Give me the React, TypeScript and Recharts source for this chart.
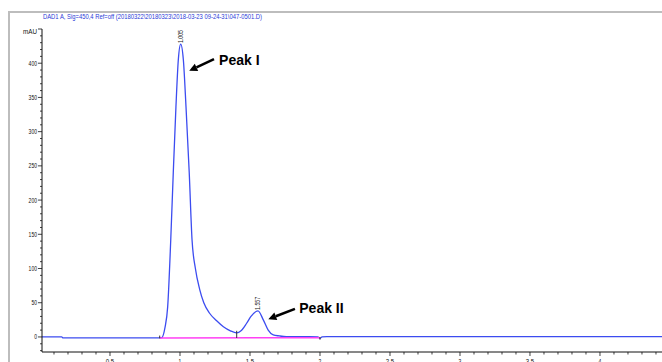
import React from "react";
import { LineChart, Line, XAxis, YAxis, ReferenceLine, ReferenceDot } from "recharts";

// chromatogram DAD1 A, 450 nm
const title = "DAD1 A, Sig=450,4 Ref=off (20180322\\20180323\\2018-03-23 09-24-31\\047-0501.D)";
const yUnit = "mAU";

const retentionTime = [
  0, 0.155, 0.165, 0.84, 0.87, 0.893, 0.912, 0.934, 0.952, 0.971, 0.988, 1.005, 1.024,
  1.043, 1.066, 1.086, 1.11, 1.14, 1.17, 1.21, 1.26, 1.31, 1.36, 1.405, 1.436, 1.476,
  1.507, 1.557, 1.595, 1.63, 1.666, 1.71, 1.76, 1.9, 1.985, 2.0, 2.015, 2.05, 4.45,
];
const absorbance = [
  0, 0, -1.5, -1.5, -1, 14, 44, 142, 240, 336, 405, 428, 405,
  336, 240, 142, 100, 70, 50, 35, 24, 15, 9, 6, 9, 20,
  30, 38, 25, 10, 3, 1.5, 0.5, 0.3, 0, -2, 0, 0.5, 0.5,
];

// integration baseline (pink)
const baselineTime = [0.855, 2.0];
const baselineValue = [-1.5, -1];

// peak marks
const peakTimes = [1.005, 1.557];
const peakHeights = [428, 38];
const peakNames = ["Peak I", "Peak II"];
const splitTimes = [0.855, 1.405, 2.0];
const splitTops = [2, 9, 0];
const splitBottoms = [-2, -1.5, -4];

const xLabels = ["0.5", "1", "1.5", "2", "2.5", "3", "3.5", "4"];

const xDomain: [number, number] = [0.0143, 4.443];
const yDomain: [number, number] = [-22, 450];

const xTicks = Array.from({ length: 44 }, (_, i) => Math.round((i + 1) * 10) / 100);
const yTicks = [...Array.from({ length: 47 }, (_, i) => -20 + i * 10), 450];

const trace = retentionTime.map((t, i) => ({ t, v: absorbance[i] }));
const baseline = baselineTime.map((t, i) => ({ t, v: baselineValue[i] }));

// arrows: tail -> head, text at [t, v]
const notes = [
  { tail: [1.243, 406], head: [1.066, 389], text: [1.279, 405] },
  { tail: [1.821, 41], head: [1.631, 26], text: [1.852, 42] },
];

const FONT = "'Liberation Sans', Arial, sans-serif";

function YTick(props: any) {
  const { x, y, payload } = props;
  const v = payload.value;
  const isTop = v === yDomain[1];
  const major = v % 50 === 0 || isTop;
  const label = isTop ? yUnit : String(v);
  return (
    <g>
      <line x1={x} x2={x - (major ? 4 : 2)} y1={y} y2={y} stroke="#111" strokeWidth={0.8} />
      {major && (
        <text
          x={x - 5}
          y={y + (isTop ? 5 : 2.5)}
          textAnchor="end"
          fontSize={7}
          fontFamily={FONT}
          fill="#111"
          textLength={isTop ? 14 : label.length * 2.8}
          lengthAdjust="spacingAndGlyphs"
        >
          {label}
        </text>
      )}
    </g>
  );
}

function XTick(props: any) {
  const { x, y, payload } = props;
  const v = payload.value;
  const label = String(v);
  const major = xLabels.includes(label);
  return (
    <g>
      <line x1={x} x2={x} y1={y} y2={y + (major ? 4 : 2.5)} stroke="#111" strokeWidth={0.8} />
      {major && (
        <text
          x={x}
          y={y + 12}
          textAnchor="middle"
          fontSize={7}
          fontFamily={FONT}
          fill="#111"
          textLength={label.length * 2.8}
          lengthAdjust="spacingAndGlyphs"
        >
          {label}
        </text>
      )}
    </g>
  );
}

function Arrow(props: any) {
  const { x1, y1, x2, y2 } = props;
  const dx = x2 - x1;
  const dy = y2 - y1;
  const len = Math.sqrt(dx * dx + dy * dy);
  const ux = dx / len;
  const uy = dy / len;
  const hl = 8;
  const hw = 4;
  const bx = x2 - ux * hl;
  const by = y2 - uy * hl;
  return (
    <g>
      <line x1={x1} y1={y1} x2={bx} y2={by} stroke="#000" strokeWidth={2.6} />
      <polygon
        points={`${x2},${y2} ${bx - uy * hw},${by + ux * hw} ${bx + uy * hw},${by - ux * hw}`}
        fill="#000"
      />
    </g>
  );
}

export default function App() {
  return (
    <div
      style={{
        position: "fixed",
        left: 0,
        top: 0,
        width: 662,
        height: 362,
        overflow: "hidden",
        background: "#fff",
      }}
    >
      <div
        style={{
          position: "absolute",
          left: 8,
          top: 11,
          width: 700,
          height: 400,
          borderTop: "2px solid #bdbdbd",
          borderLeft: "2px solid #bdbdbd",
        }}
      />
      <svg style={{ position: "absolute", left: 0, top: 0 }} width={662} height={30}>
        <text
          x={43}
          y={19}
          fontSize={8}
          fontFamily={FONT}
          fill="#2a3ad8"
          textLength={219}
          lengthAdjust="spacingAndGlyphs"
        >
          {title}
        </text>
      </svg>
      <LineChart
        width={662}
        height={380}
        data={trace}
        margin={{ top: 29, right: 0, left: 0, bottom: 0 }}
        style={{ position: "absolute", left: 0, top: 0 }}
      >
        <XAxis
          dataKey="t"
          type="number"
          domain={xDomain}
          ticks={xTicks}
          interval={0}
          tickSize={0}
          tickMargin={0}
          tickLine={false}
          height={28}
          stroke="#111"
          axisLine={{ stroke: "#111", strokeWidth: 1 }}
          tick={<XTick />}
          allowDataOverflow
        />
        <YAxis
          type="number"
          domain={yDomain}
          ticks={yTicks}
          interval={0}
          tickSize={0}
          tickMargin={0}
          tickLine={false}
          width={42}
          stroke="#111"
          axisLine={{ stroke: "#111", strokeWidth: 1 }}
          tick={<YTick />}
          allowDataOverflow
        />
        <Line
          dataKey="v"
          type="monotone"
          stroke="#3c4cf0"
          strokeWidth={1.3}
          dot={false}
          isAnimationActive={false}
        />
        <Line
          data={baseline}
          dataKey="v"
          type="linear"
          stroke="#ff40f4"
          strokeWidth={1.5}
          dot={false}
          isAnimationActive={false}
        />
        {splitTimes.map((t, i) => (
          <ReferenceLine
            key={`split-${i}`}
            segment={[
              { x: t, y: splitBottoms[i] },
              { x: t, y: splitTops[i] },
            ]}
            stroke="#333"
            strokeWidth={1}
          />
        ))}
        {peakTimes.map((t, i) => (
          <ReferenceDot
            key={`rt-${i}`}
            x={t}
            y={peakHeights[i]}
            r={0}
            shape={(p: any) => (
              <text
                transform={`translate(${p.cx + 2.5},${p.cy - 1}) rotate(-90)`}
                fontSize={7}
                fontFamily={FONT}
                fill="#111"
                textLength={13}
                lengthAdjust="spacingAndGlyphs"
              >
                {t.toFixed(3)}
              </text>
            )}
          />
        ))}
        {notes.map((n, i) => (
          <ReferenceLine
            key={`arrow-${i}`}
            segment={[
              { x: n.tail[0], y: n.tail[1] },
              { x: n.head[0], y: n.head[1] },
            ]}
            shape={<Arrow />}
          />
        ))}
        {notes.map((n, i) => (
          <ReferenceDot
            key={`note-${i}`}
            x={n.text[0]}
            y={n.text[1]}
            r={0}
            shape={(p: any) => (
              <text
                x={p.cx}
                y={p.cy + 5}
                fontSize={14}
                fontWeight="bold"
                fontFamily={FONT}
                fill="#000"
              >
                {peakNames[i]}
              </text>
            )}
          />
        ))}
      </LineChart>
    </div>
  );
}
